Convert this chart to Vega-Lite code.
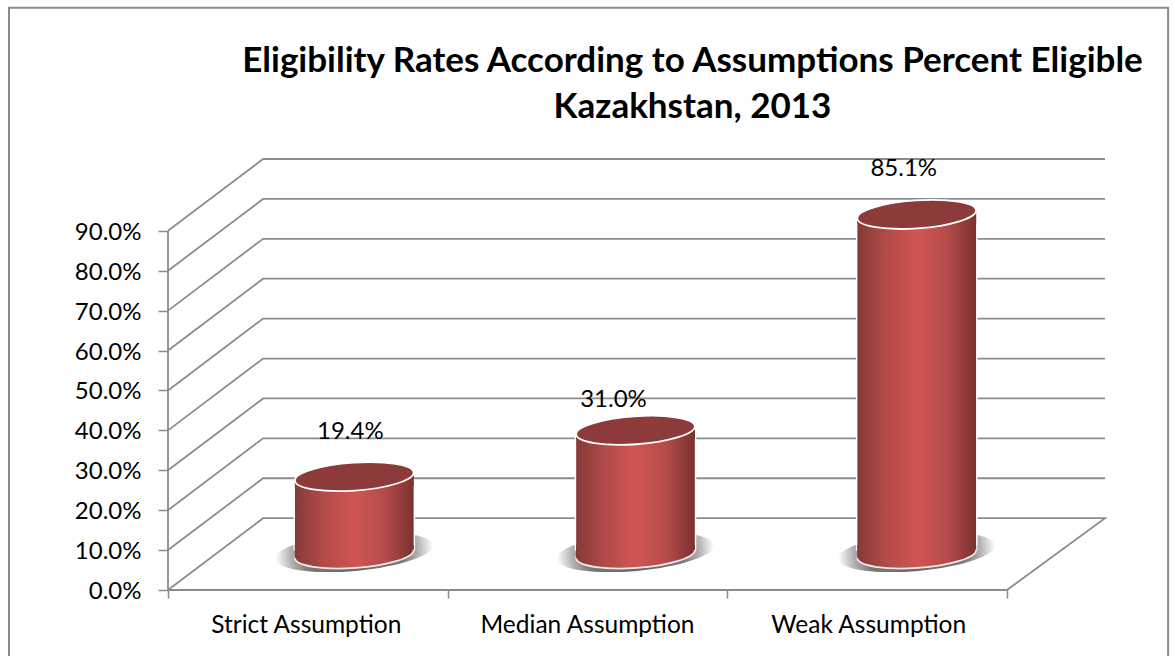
{
"$schema":"https://vega.github.io/schema/vega-lite/v6.json",
"width":937,"height":431,
"autosize":{"type":"none"},
"padding":{"left":168,"top":159,"right":70,"bottom":66},
"background":"white",
"config":{"view":{"stroke":null},"font":"Lato","text":{"font":"Lato"}},
"title":{"text":["Eligibility Rates According to Assumptions Percent Eligible","Kazakhstan, 2013"],"font":"Lato","fontSize":35,"fontWeight":"bold","color":"#000000","anchor":"middle","dx":56,"lineHeight":46,"offset":-121},
"datasets":{
"bars":[{"assumption":"Strict Assumption","rate":19.4,"label":"19.4%"},{"assumption":"Median Assumption","rate":31.0,"label":"31.0%"},{"assumption":"Weak Assumption","rate":85.1,"label":"85.1%"}],
"grid":[
{"s":"g0","o":1,"x":0,"y":0},{"s":"g0","o":2,"x":0.34,"y":18},{"s":"g0","o":3,"x":3.3504,"y":18},{"s":"g0","o":4,"x":3,"y":0},{"s":"g0","o":5,"x":0,"y":0},
{"s":"g10","o":1,"x":0,"y":10},{"s":"g10","o":2,"x":0.34,"y":28},{"s":"g10","o":3,"x":3.3504,"y":28},
{"s":"g20","o":1,"x":0,"y":20},{"s":"g20","o":2,"x":0.34,"y":38},{"s":"g20","o":3,"x":3.3504,"y":38},
{"s":"g30","o":1,"x":0,"y":30},{"s":"g30","o":2,"x":0.34,"y":48},{"s":"g30","o":3,"x":3.3504,"y":48},
{"s":"g40","o":1,"x":0,"y":40},{"s":"g40","o":2,"x":0.34,"y":58},{"s":"g40","o":3,"x":3.3504,"y":58},
{"s":"g50","o":1,"x":0,"y":50},{"s":"g50","o":2,"x":0.34,"y":68},{"s":"g50","o":3,"x":3.3504,"y":68},
{"s":"g60","o":1,"x":0,"y":60},{"s":"g60","o":2,"x":0.34,"y":78},{"s":"g60","o":3,"x":3.3504,"y":78},
{"s":"g70","o":1,"x":0,"y":70},{"s":"g70","o":2,"x":0.34,"y":88},{"s":"g70","o":3,"x":3.3504,"y":88},
{"s":"g80","o":1,"x":0,"y":80},{"s":"g80","o":2,"x":0.34,"y":98},{"s":"g80","o":3,"x":3.3504,"y":98},
{"s":"g90","o":1,"x":0,"y":90},{"s":"g90","o":2,"x":0.34,"y":108},{"s":"g90","o":3,"x":3.3504,"y":108},
{"s":"axis","o":1,"x":0,"y":0},{"s":"axis","o":2,"x":0,"y":90}
],
"frame":[{"o":1,"x":-0.5685,"y":-16.6},{"o":2,"x":-0.5685,"y":145.9},{"o":3,"x":3.576,"y":145.9},{"o":4,"x":3.576,"y":-16.6}]
},
"resolve":{"scale":{"x":"independent"},"axis":{"x":"independent"}},
"layer":[
{"layer":[
{"data":{"name":"frame"},"mark":{"type":"line","color":"#8A8A8A","strokeWidth":2,"clip":false},
"encoding":{"x":{"field":"x","type":"quantitative","scale":{"domain":[0,3.3504],"nice":false,"zero":false},"axis":{"values":[0,1,2,3],"labels":false,"title":null,"grid":false,"domain":false,"tickColor":"#8A8A8A","tickWidth":1.5,"tickSize":8}},
"y":{"field":"y","type":"quantitative","scale":{"domain":[0,108],"nice":false},"axis":{"values":[0,10,20,30,40,50,60,70,80,90],"title":null,"grid":false,"domain":false,"tickColor":"#8A8A8A","tickWidth":1.5,"tickSize":10,"labelFontSize":24,"labelFont":"Lato","labelColor":"#000000","labelPadding":17,"labelOffset":1.5,"labelExpr":"format(datum.value,'.1f')+'%'"}},
"order":{"field":"o","type":"quantitative"}}},
{"data":{"name":"grid"},"mark":{"type":"line","color":"#8C8C8C","strokeWidth":1.8},
"encoding":{"x":{"field":"x","type":"quantitative"},"y":{"field":"y","type":"quantitative"},"detail":{"field":"s","type":"nominal"},"order":{"field":"o","type":"quantitative"}}}
]},
{"data":{"name":"bars"},
"encoding":{"x":{"field":"assumption","type":"nominal","sort":null,"scale":{"paddingInner":0.578,"paddingOuter":0.455},"axis":{"orient":"bottom","title":null,"labelAngle":0,"ticks":false,"domain":false,"grid":false,"labelFontSize":24.5,"labelFont":"Lato","labelColor":"#000000","labelPadding":23,"labelOffset":-49,"labelLimit":400}}},
"layer":[
{"mark":{"type":"point","filled":true,"opacity":1,"shape":"M-1,0A1,0.24 0 1 1 1,0A1,0.24 0 1 1 -1,0Z","size":24964,"angle":-5,"xOffset":-1,"yOffset":-38,"fill":{"gradient":"radial","x1":0.5,"y1":0.5,"r1":0,"x2":0.5,"y2":0.5,"r2":0.5,"stops":[{"offset":0,"color":"#606060"},{"offset":0.62,"color":"#7A7A7A"},{"offset":0.8,"color":"#B0B0B0"},{"offset":1,"color":"#FFFFFF"}]}},
"encoding":{"y":{"datum":0,"type":"quantitative"}}},
{"mark":{"type":"bar","fill":"#FFFFFF","stroke":"#FFFFFF","strokeWidth":3,"xOffset":-1,"yOffset":-31,"y2Offset":-41},
"encoding":{"y":{"field":"rate","type":"quantitative"},"y2":{"datum":0}}},
{"mark":{"type":"point","filled":true,"opacity":1,"shape":"M-1,0A1,0.235 0 1 1 1,0A1,0.235 0 1 1 -1,0Z","size":14161,"angle":-4,"xOffset":-1,"yOffset":-36,"stroke":"#F4E8E8","strokeWidth":1.8,"fill":{"gradient":"linear","x1":0,"y1":0,"x2":1,"y2":0,"stops":[{"offset":0,"color":"#853A38"},{"offset":0.25,"color":"#B34B49"},{"offset":0.5,"color":"#CF5552"},{"offset":0.75,"color":"#B64C4A"},{"offset":1,"color":"#7A3130"}]}},
"encoding":{"y":{"datum":0,"type":"quantitative"}}},
{"mark":{"type":"bar","xOffset":-1,"yOffset":-31,"y2Offset":-41,"fill":{"gradient":"linear","x1":0,"y1":0,"x2":1,"y2":0,"stops":[{"offset":0,"color":"#853A38"},{"offset":0.25,"color":"#B34B49"},{"offset":0.5,"color":"#CF5552"},{"offset":0.75,"color":"#B64C4A"},{"offset":1,"color":"#7A3130"}]}},
"encoding":{"y":{"field":"rate","type":"quantitative"},"y2":{"datum":0}}},
{"mark":{"type":"point","filled":true,"opacity":1,"shape":"M-1,-0.15L1,-0.15L1,-0.07L-1,0.07Z","size":14161,"xOffset":-1,"yOffset":-36,"fill":{"gradient":"linear","x1":0,"y1":0,"x2":1,"y2":0,"stops":[{"offset":0,"color":"#853A38"},{"offset":0.25,"color":"#B34B49"},{"offset":0.5,"color":"#CF5552"},{"offset":0.75,"color":"#B64C4A"},{"offset":1,"color":"#7A3130"}]}},
"encoding":{"y":{"datum":0,"type":"quantitative"}}},
{"mark":{"type":"point","filled":true,"opacity":1,"shape":"M-1,0.07L1,-0.07L1,0.15L-1,0.15Z","size":14161,"xOffset":-1,"yOffset":-36,"fill":{"gradient":"linear","x1":0,"y1":0,"x2":1,"y2":0,"stops":[{"offset":0,"color":"#853A38"},{"offset":0.25,"color":"#B34B49"},{"offset":0.5,"color":"#CF5552"},{"offset":0.75,"color":"#B64C4A"},{"offset":1,"color":"#7A3130"}]}},
"encoding":{"y":{"field":"rate","type":"quantitative"}}},
{"mark":{"type":"point","filled":true,"opacity":1,"shape":"M-1,0A1,0.235 0 1 1 1,0A1,0.235 0 1 1 -1,0Z","size":14161,"angle":-4,"xOffset":-1,"yOffset":-36,"fill":"#8C3B3A","stroke":"#FFFFFF","strokeWidth":1.8},
"encoding":{"y":{"field":"rate","type":"quantitative"}}},
{"transform":[{"filter":"datum.rate==19.4"}],"mark":{"type":"text","fontSize":24,"font":"Lato","color":"#000000","dx":-5,"dy":-81},
"encoding":{"y":{"field":"rate","type":"quantitative"},"text":{"field":"label","type":"nominal"}}},
{"transform":[{"filter":"datum.rate==31"}],"mark":{"type":"text","fontSize":24,"font":"Lato","color":"#000000","dx":-23,"dy":-66},
"encoding":{"y":{"field":"rate","type":"quantitative"},"text":{"field":"label","type":"nominal"}}},
{"transform":[{"filter":"datum.rate==85.1"}],"mark":{"type":"text","fontSize":24,"font":"Lato","color":"#000000","dx":-14,"dy":-81},
"encoding":{"y":{"field":"rate","type":"quantitative"},"text":{"field":"label","type":"nominal"}}}
]}
]
}
